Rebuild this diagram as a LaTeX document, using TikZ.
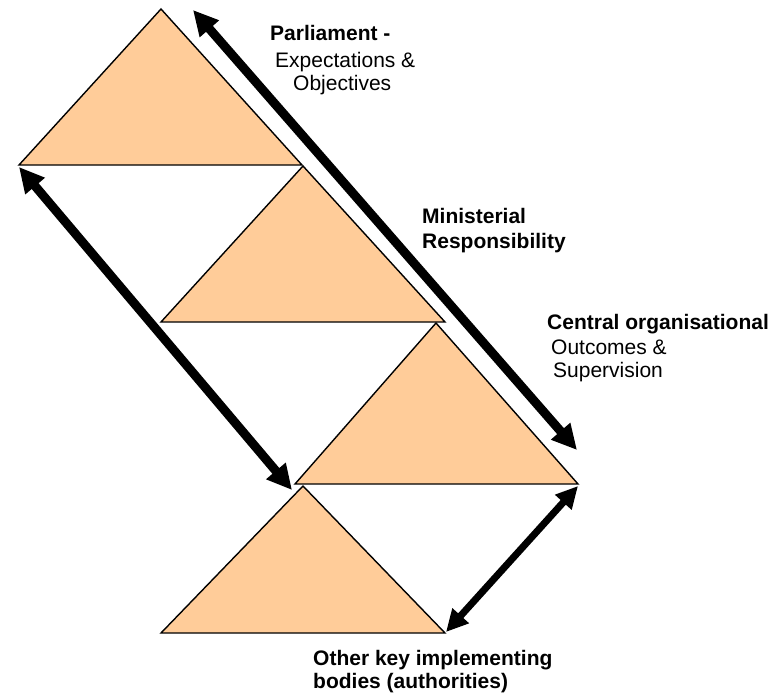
\documentclass[tikz,border=0pt]{standalone}
\usepackage{fontspec}
\setmainfont{Liberation Sans}
\usetikzlibrary{arrows.meta}
\definecolor{peach}{HTML}{FFCC99}
\begin{document}
\begin{tikzpicture}[x=1pt,y=-1pt,
  tri/.style={fill=peach,draw=black,line width=1.4pt,line join=miter},
  bigarrow/.style={line width=9pt,{Triangle[length=25pt,width=24pt]}-{Triangle[length=25pt,width=24pt]}},
  smallarrow/.style={line width=7pt,{Triangle[length=22pt,width=21pt]}-{Triangle[length=22pt,width=21pt]}},
  lab/.style={inner sep=0pt,anchor=base west,font=\fontsize{21}{23}\selectfont},
  blab/.style={lab,font=\fontsize{21}{23}\selectfont\bfseries}]
\useasboundingbox (0,0) rectangle (779,694);
% triangles
\draw[tri] (161,9) -- (302,165) -- (19,165) -- cycle;
\draw[tri] (303,166) -- (445,322) -- (161,322) -- cycle;
\draw[tri] (436,323) -- (578,484) -- (295,484) -- cycle;
\draw[tri] (303,486) -- (445,633) -- (161,633) -- cycle;
% arrow end points
\coordinate (a1) at (193,10);
\coordinate (a2) at (577,450);
\coordinate (b1) at (19,167);
\coordinate (b2) at (292,490);
\coordinate (c1) at (578,486);
\coordinate (c2) at (446,632);
\draw[bigarrow] (a1) -- (a2);
\draw[bigarrow] (b1) -- (b2);
\draw[smallarrow] (c1) -- (c2);
% labels
\node[blab] (p1) at (270,40) {Parliament -};
\node[lab] (p2) at (275,67) {Expectations \&};
\node[lab] (p3) at (293,90) {Objectives};
\node[blab] (m1) at (422,223) {Ministerial};
\node[blab] (m2) at (422,248) {Responsibility};
\node[blab] (c1l) at (547,329) {Central organisational};
\node[lab] (c2l) at (551,354) {Outcomes \&};
\node[lab] (c3l) at (553,377) {Supervision};
\node[blab] (o1) at (313,665) {Other key implementing};
\node[blab] (o2) at (313,688) {bodies (authorities)};
\end{tikzpicture}
\end{document}
